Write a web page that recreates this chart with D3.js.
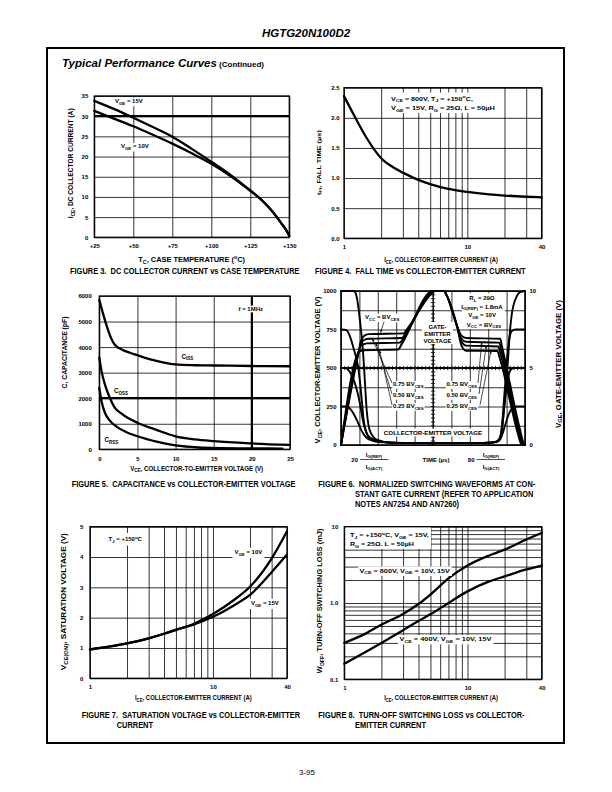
<!DOCTYPE html>
<html><head><meta charset="utf-8">
<script src="https://cdn.jsdelivr.net/npm/d3@7"></script>
<style>
body{margin:0;background:#fff}
svg{display:block}
text{font-family:"Liberation Sans",Arial,Helvetica,sans-serif;fill:#000;white-space:pre}
</style></head><body>
<svg id="c" width="612" height="792"></svg>
<script>
// ================= DATA =================
// Figure 3 : DC collector current vs case temperature
const f3TempTicks = [25, 50, 75, 100, 125, 150];
const f3TempLabels = ['+25', '+50', '+75', '+100', '+125', '+150'];
const f3CurrentTicks = [0, 5, 10, 15, 20, 25, 30, 35];
const f3Vge15 = [[25,33.8],[37.5,31.8],[50,29.6],[62.5,27.3],[75,24.9],[87.5,21.9],[100,18.7],[112.5,15.4],[125,11.6],[130,10.0],[135,8.2],[140,6.0],[145,3.4],[148,1.8],[150,0.4]];
const f3Vge10 = [[25,31.3],[37.5,29.4],[50,27.5],[62.5,25.4],[75,23.2],[87.5,20.8],[100,18.2],[112.5,15.1],[125,11.5],[130,10.0],[135,8.2],[140,6.0],[145,3.4],[148,1.8],[150,0.4]];

// Figure 4 : fall time vs collector-emitter current
const f4CurrentTicks = [1,2,3,4,5,6,7,8,9,10,20,30,40];
const f4CurrentLabels = ['1','','','','','','','','','10','','','40'];
const f4TimeTicks = [0, 0.5, 1.0, 1.5, 2.0, 2.5];
const f4Current  = [1, 1.2, 1.5, 2, 2.5, 3, 4, 5, 7, 10, 15, 20, 30, 40];
const f4FallTime = [2.36, 2.05, 1.69, 1.33, 1.18, 1.09, 0.97, 0.90, 0.82, 0.77, 0.73, 0.71, 0.69, 0.68];

// Figure 5 : capacitance vs collector-emitter voltage
const f5VoltTicks = [0, 5, 10, 15, 20, 25];
const f5CapTicks = [0, 1000, 2000, 3000, 4000, 5000, 6000];
const f5Ciss = [[0,5850],[0.5,5300],[1,4800],[1.5,4380],[2,4100],[3,3900],[4,3780],[5,3680],[6,3580],[7.5,3460],[10,3320],[12.5,3290],[15,3280],[20,3260],[25,3250]];
const f5Coss = [[0,3600],[0.3,3050],[0.75,2520],[1.4,2000],[2,1640],[3,1380],[5,1040],[7.5,760],[10,510],[12.5,390],[15,320],[20,230],[25,170]];
const f5Crss = [[0,2400],[0.3,1870],[0.75,1420],[1.3,1150],[2.3,880],[3.5,680],[5,510],[7.5,300],[10,150],[13,70],[16,45],[20,35],[24,30]];

// Figure 6 : normalized switching waveforms (time 0-100, VCE 0-1000 V, VGE 0-10 V)
const f6TimeTicks = [0,10,20,30,40,50,60,70,80,90,100];
const f6VceTicks = [0,125,250,375,500,625,750,875,1000];
const f6VceLabels = ['0','','250','','500','','750','','1000'];
const f6VgeTicks = [0, 5, 10];
const f6GateBV100 = [[0,0],[9.5,6.0],[10.8,6.75],[12.5,7.08],[15,7.2],[34,7.25],[36,7.55],[49,9.8],[51,10],[56,10],[57.5,9.7],[63,7.75],[65.5,7.1],[68,6.95],[86.5,6.9],[87.5,6.4],[97.5,0.9],[99.3,0.1],[100,0]];
const f6GateBV75  = [[0,0],[9.5,6.0],[10.8,6.6],[12.5,6.82],[15,6.9],[33,6.95],[35,7.25],[48.5,9.8],[50.5,10],[56,10],[57.5,9.7],[63,7.75],[65.5,6.9],[68,6.7],[86,6.65],[87,6.2],[97,0.8],[98.8,0.1],[100,0]];
const f6GateBV50  = [[0,0],[9.5,6.0],[10.8,6.45],[12.5,6.55],[14,6.6],[32,6.65],[34,6.95],[48,9.8],[50,10],[56,10],[57.5,9.7],[63,7.75],[65.5,6.7],[68,6.45],[85.5,6.4],[86.5,6.0],[96.5,0.8],[98.3,0.1],[100,0]];
const f6GateBV25  = [[0,0],[9.5,6.0],[11,6.12],[13,6.15],[31,6.2],[33,6.55],[47,9.8],[49,10],[56,10],[57.5,9.7],[63,7.75],[65.5,6.45],[68,6.12],[85,6.1],[86,5.75],[96,0.8],[97.8,0.1],[100,0]];
const f6VceBV100 = [[0,1000],[7,1000],[8.5,965],[10,840],[11,730],[12,600],[13,410],[14,220],[15,125],[16.5,72],[18,46],[21,28],[25,18],[30,15],[40,13],[60,12],[75,13],[80,15],[83,18],[85,24],[86.5,42],[87.5,95],[88.5,220],[90,420],[91,600],[91.8,735],[92.7,840],[93.6,900],[95.5,965],[97.3,993],[100,1000]];
const f6VceBV75  = [[0,750],[3,745],[5,700],[7,620],[9.4,500],[10.5,390],[11.5,265],[12.2,175],[13,115],[14.8,55],[17,36],[20,25],[25,17],[30,14],[40,12],[60,12],[75,13],[80,15],[83,18],[85,26],[86.5,52],[87.5,130],[88.5,280],[89.5,440],[90.5,590],[91.3,680],[92.3,730],[93.5,746],[95,750],[100,750]];
const f6VceBV50  = [[0,500],[2.5,500],[4.5,480],[7,420],[9,340],[10.5,255],[11.5,185],[12.5,128],[14,75],[16,46],[19,30],[23,20],[28,15],[35,13],[45,12],[60,12],[75,13],[80,15],[83,18],[85,25],[86.5,50],[87.5,115],[88.5,220],[89.5,330],[90.5,420],[91.5,470],[92.5,492],[94,500],[100,500]];
const f6VceBV25  = [[0,250],[3.5,250],[5,235],[7,200],[9,152],[10.5,110],[12,76],[13.5,52],[15.5,34],[19,23],[23,17],[28,14],[35,13],[45,12],[60,12],[75,13],[80,15],[83,17],[85,22],[86.5,36],[88,80],[89.5,140],[91,195],[92.5,230],[94,246],[95.5,250],[100,250]];

// Figure 7 : saturation voltage vs collector-emitter current
const f7CurrentTicks = [1,2,3,4,5,6,7,8,9,10,20,30,40];
const f7CurrentLabels = ['1','','','','','','','','','10','','','40'];
const f7VoltTicks = [0,1,2,3,4,5];
const f7Current = [1, 1.5, 2, 3, 4, 5, 7, 10, 15, 20, 30, 40];
const f7Vge10 = [0.95, 1.06, 1.15, 1.32, 1.47, 1.60, 1.80, 2.12, 2.60, 3.02, 3.95, 4.85];
const f7Vge15 = [0.95, 1.06, 1.15, 1.32, 1.47, 1.60, 1.78, 2.03, 2.42, 2.75, 3.50, 4.08];

// Figure 8 : turn-off switching loss vs collector-emitter current
const f8CurrentTicks = [1,2,3,4,5,6,7,8,9,10,20,30,40];
const f8CurrentLabels = ['1','','','','','','','','','10','','','40'];
const f8LossTicks = [0.1,0.2,0.3,0.4,0.5,0.6,0.7,0.8,0.9,1,2,3,4,5,6,7,8,9,10];
const f8LossLabels = ['0.1','','','','','','','','','1.0','','','','','','','','','10'];
const f8Current = [1, 1.5, 2, 3, 4, 5, 7, 10, 15, 20, 30, 40];
const f8Vce800 = [0.30, 0.40, 0.52, 0.72, 0.97, 1.29, 2.10, 3.10, 4.20, 5.00, 6.80, 8.30];
const f8Vce400 = [0.16, 0.23, 0.30, 0.44, 0.58, 0.71, 1.00, 1.42, 1.92, 2.23, 2.75, 3.10];

// ================= DRAWING =================
const svg = d3.select('#c');
const defs = svg.append('defs');
defs.append('marker').attr('id','arr').attr('viewBox','0 0 10 10').attr('refX',10).attr('refY',5)
  .attr('markerWidth',4).attr('markerHeight',4).attr('orient','auto')
  .append('path').attr('d','M0,1 L10,5 L0,9 Z').attr('fill','#000');

function rich(t, str, size) {
  const parts = str.split(/(_\{[^}]*\}|\^\{[^}]*\})/).filter(s => s.length);
  let cur = 0;
  for (const p of parts) {
    let s = p, off = 0, small = false;
    if (p.startsWith('_{')) { s = p.slice(2, -1); off = size * 0.3; small = true; }
    else if (p.startsWith('^{')) { s = p.slice(2, -1); off = -size * 0.4; small = true; }
    const ts = t.append('tspan').attr('dy', off - cur).text(s);
    if (small) ts.style('font-size', (size * 0.72) + 'px');
    cur = off;
  }
}
function addText(parent, x, y, str, o = {}) {
  const size = o.size || 6;
  let tr = `translate(${x},${y})`;
  if (o.rot) tr += ` rotate(${o.rot})`;
  const g = parent.append('g').attr('transform', tr);
  const t = g.append('text')
    .attr('text-anchor', o.anchor || 'start')
    .style('font-size', size + 'px')
    .style('font-weight', o.weight || 'bold')
    .style('font-style', o.italic ? 'italic' : 'normal');
  rich(t, str, size);
  if (o.width) {
    const w = t.node().getComputedTextLength();
    if (w > 0) t.attr('transform', `scale(${o.width / w},1)`);
  } else if (o.sx) t.attr('transform', `scale(${o.sx},1)`);
  if (o.bg) {
    const b = g.node().getBBox();
    const p = o.pad == null ? 1.2 : o.pad;
    g.insert('rect', 'text').attr('x', b.x - p).attr('y', b.y - p + 0.8)
      .attr('width', b.width + 2 * p).attr('height', b.height + 2 * p - 1.6).attr('fill', '#fff');
  }
  return g;
}
function styleAxis(s, size) {
  s.attr('font-family', null).attr('font-size', null);
  s.select('.domain').remove();
  s.selectAll('.tick line').attr('stroke', '#000').attr('stroke-width', 0.8);
  s.selectAll('.tick text').style('font-size', size + 'px').style('font-weight', 'bold').attr('fill', '#000');
}
function gridAxes(g, x, y, o) {
  const [x0, x1] = x.range(), [y0, y1] = y.range();
  const fx = o.xLabels ? (d, i) => o.xLabels[i] : (o.xFmt || (d => d));
  const fy = o.yLabels ? (d, i) => o.yLabels[i] : (o.yFmt || (d => d));
  g.append('g').attr('transform', `translate(0,${y0})`)
    .call(d3.axisBottom(x).tickValues(o.xTicks).tickSize(-(y0 - y1)).tickPadding(o.xPad).tickFormat(fx))
    .call(s => styleAxis(s, o.tickSize || 6));
  g.append('g').attr('transform', `translate(${x0},0)`)
    .call(d3.axisLeft(y).tickValues(o.yTicks).tickSize(-(x1 - x0)).tickPadding(o.yPad).tickFormat(fy))
    .call(s => styleAxis(s, o.tickSize || 6));
}
function frame(g, x, y, w) {
  const [x0, x1] = x.range(), [y0, y1] = y.range();
  g.append('rect').attr('x', x0).attr('y', y1).attr('width', x1 - x0).attr('height', y0 - y1)
    .attr('fill', 'none').attr('stroke', '#000').attr('stroke-width', w || 1.3);
}
function curve(g, x, y, pts, w) {
  g.append('path').datum(pts)
    .attr('d', d3.line().x(d => x(d[0])).y(d => y(d[1])).curve(d3.curveMonotoneX))
    .attr('fill', 'none').attr('stroke', '#000').attr('stroke-width', w || 2.3)
    .attr('stroke-linecap', 'round').attr('stroke-linejoin', 'round');
}
function hline(g, x, y, v, w) {
  g.append('line').attr('x1', x.range()[0]).attr('x2', x.range()[1]).attr('y1', y(v)).attr('y2', y(v))
    .attr('stroke', '#000').attr('stroke-width', w);
}
function vline(g, x, y, v, w) {
  g.append('line').attr('x1', x(v)).attr('x2', x(v)).attr('y1', y.range()[0]).attr('y2', y.range()[1])
    .attr('stroke', '#000').attr('stroke-width', w);
}
const zip = (a, b) => a.map((v, i) => [v, b[i]]);

// ---------- page ----------
addText(svg, 306, 37, 'HGTG20N100D2', { size: 11.5, italic: true, anchor: 'middle' });
svg.append('rect').attr('x', 47).attr('y', 48).attr('width', 517).attr('height', 695)
  .attr('fill', 'none').attr('stroke', '#000').attr('stroke-width', 2);
const ttl = svg.append('text').attr('x', 62).attr('y', 67);
ttl.append('tspan').text('Typical Performance Curves').style('font-size', '11.5px').style('font-weight', 'bold').style('font-style', 'italic');
ttl.append('tspan').text(' (Continued)').style('font-size', '8px').style('font-weight', 'bold');
addText(svg, 307, 775, '3-95', { size: 8, weight: 'normal', anchor: 'middle' });

// caption compression from figure 3 caption
const CAP = 8.4;
const cap3 = addText(svg, 70, 274, 'FIGURE 3.  DC COLLECTOR CURRENT vs CASE TEMPERATURE', { size: CAP, width: 229 });
const capSx = 229 / cap3.select('text').node().getComputedTextLength();
function caption(x, y, s) { return addText(svg, x, y, s, { size: CAP, sx: capSx }); }

// ---------- Figure 3 ----------
{
  const g = svg.append('g');
  const x = d3.scaleLinear([25, 150], [94.3, 289.3]);
  const y = d3.scaleLinear([0, 35], [237.3, 96]);
  gridAxes(g, x, y, { xTicks: f3TempTicks, xLabels: f3TempLabels, yTicks: f3CurrentTicks, xPad: 6.4, yPad: 6 });
  hline(g, x, y, 30, 2.2);
  curve(g, x, y, f3Vge15);
  curve(g, x, y, f3Vge10);
  frame(g, x, y);
  addText(g, 115, 103, 'V_{GE} = 15V', { size: 6, bg: true });
  addText(g, 121, 148.3, 'V_{GE} = 10V', { size: 6, bg: true });
  addText(g, 191.7, 262, 'T_{C}, CASE TEMPERATURE (^{o}C)', { size: 6.3, anchor: 'middle', width: 107 });
  addText(g, 73, 163.3, 'I_{CE}, DC COLLECTOR CURRENT (A)', { size: 6.3, anchor: 'middle', rot: -90, width: 110 });
}

// ---------- Figure 4 ----------
{
  const g = svg.append('g');
  const x = d3.scaleLog([1, 40], [344, 541.6]);
  const y = d3.scaleLinear([0, 2.5], [238.3, 87.7]);
  gridAxes(g, x, y, { xTicks: f4CurrentTicks, xLabels: f4CurrentLabels, yTicks: f4TimeTicks, yFmt: d3.format('.1f'), xPad: 6.4, yPad: 4.5 });
  curve(g, x, y, zip(f4Current, f4FallTime));
  frame(g, x, y);
  g.append('rect').attr('x', 388.5).attr('y', 92.5).attr('width', 109).attr('height', 20.5).attr('fill', '#fff');
  addText(g, 391, 100.5, 'V_{CE} = 800V, T_{J} = +150^{o}C,', { size: 6, width: 82 });
  addText(g, 391, 109.8, 'V_{GE} = 15V, R_{G} = 25Ω, L = 50µH', { size: 6, width: 104 });
  addText(g, 441, 262, 'I_{CE}, COLLECTOR-EMITTER CURRENT (A)', { size: 6.3, anchor: 'middle', width: 114 });
  addText(g, 320.5, 162.5, 't_{FI}, FALL TIME (µs)', { size: 6, anchor: 'middle', rot: -90, width: 65 });
  caption(315, 274, 'FIGURE 4.  FALL TIME vs COLLECTOR-EMITTER CURRENT');
}

// ---------- Figure 5 ----------
{
  const g = svg.append('g');
  const x = d3.scaleLinear([0, 25], [99.3, 290]);
  const y = d3.scaleLinear([0, 6000], [449.3, 296]);
  gridAxes(g, x, y, { xTicks: f5VoltTicks, yTicks: f5CapTicks, xPad: 7, yPad: 7.5 });
  hline(g, x, y, 2000, 2.2);
  vline(g, x, y, 20, 2.2);
  curve(g, x, y, f5Ciss);
  curve(g, x, y, f5Coss);
  curve(g, x, y, f5Crss);
  frame(g, x, y);
  addText(g, 238.5, 311, 'f = 1MHz', { size: 6, bg: true });
  addText(g, 181.5, 358.5, 'C_{ISS}', { size: 6.3, bg: true });
  addText(g, 114, 393, 'C_{OSS}', { size: 6.3, bg: true });
  addText(g, 104.5, 442, 'C_{RSS}', { size: 6.3, bg: true });
  addText(g, 196.7, 470.5, 'V_{CE}, COLLECTOR-TO-EMITTER VOLTAGE (V)', { size: 6.3, anchor: 'middle', width: 133 });
  addText(g, 67, 352.5, 'C, CAPACITANCE (pF)', { size: 6.3, anchor: 'middle', rot: -90, width: 72 });
  caption(71.7, 487, 'FIGURE 5.  CAPACITANCE vs COLLECTOR-EMITTER VOLTAGE');
}

// ---------- Figure 6 ----------
{
  const g = svg.append('g');
  const x = d3.scaleLinear([0, 100], [341, 525]);
  const y = d3.scaleLinear([0, 1000], [445, 291]);
  const yg = d3.scaleLinear([0, 10], [445, 291]);
  gridAxes(g, x, y, { xTicks: f6TimeTicks, xFmt: () => '', yTicks: f6VceTicks, yLabels: f6VceLabels, xPad: 4, yPad: 4.5 });
  g.append('g').attr('transform', `translate(${x.range()[1]},0)`)
    .call(d3.axisRight(yg).tickValues(f6VgeTicks).tickSize(0).tickPadding(4.5))
    .call(s => styleAxis(s, 6));
  // centre reticle lines with minor ticks
  hline(g, x, y, 500, 1.8);
  vline(g, x, y, 50, 1.1);
  d3.range(0, 100.01, 2).forEach(t => g.append('line').attr('x1', x(t)).attr('x2', x(t)).attr('y1', y(500) - 2.2).attr('y2', y(500) + 2.2).attr('stroke', '#000').attr('stroke-width', 0.8));
  d3.range(0, 1000.1, 25).forEach(v => g.append('line').attr('x1', x(50) - 2.2).attr('x2', x(50) + 2.2).attr('y1', y(v)).attr('y2', y(v)).attr('stroke', '#000').attr('stroke-width', 0.8));
  [f6VceBV100, f6VceBV75, f6VceBV50, f6VceBV25].forEach(c => curve(g, x, y, c, 1.9));
  [f6GateBV100, f6GateBV75, f6GateBV50, f6GateBV25].forEach(c => curve(g, x, yg, c, 1.9));
  frame(g, x, y, 1.6);
  // annotations
  addText(g, 365, 319, 'V_{CC} = BV_{CES}', { size: 6, bg: true });
  g.append('line').attr('x1', 384).attr('y1', 321.5).attr('x2', x(21.5)).attr('y2', yg(7.3))
    .attr('stroke', '#000').attr('stroke-width', 0.7).attr('marker-end', 'url(#arr)');
  g.append('rect').attr('x', 422).attr('y', 322).attr('width', 31).attr('height', 22).attr('fill', '#fff');
  addText(g, 437.5, 329, 'GATE-', { size: 6, anchor: 'middle' });
  addText(g, 437.5, 336, 'EMITTER', { size: 6, anchor: 'middle' });
  addText(g, 437.5, 343, 'VOLTAGE', { size: 6, anchor: 'middle' });
  g.append('rect').attr('x', 462).attr('y', 293).attr('width', 43).attr('height', 36).attr('fill', '#fff');
  addText(g, 482, 300, 'R_{L} = 29Ω', { size: 6, anchor: 'middle' });
  addText(g, 482, 308.5, 'I_{G(REF)} = 1.8mA', { size: 6, anchor: 'middle' });
  addText(g, 482, 317, 'V_{GE} = 10V', { size: 6, anchor: 'middle' });
  addText(g, 484, 326.5, 'V_{CC} = BV_{CES}', { size: 6, anchor: 'middle' });
  const lbl = ['0.75 BV_{CES}', '0.50 BV_{CES}', '0.25 BV_{CES}'];
  const lys = [386, 397, 408];
  const leftT = [[17, 6.9], [19, 6.6], [21, 6.15]];
  const rightT = [[76.5, 6.7], [79, 6.45], [81.5, 6.12]];
  lbl.forEach((s, i) => {
    addText(g, 393, lys[i], s, { size: 6, bg: true, pad: 0.8 });
    g.append('line').attr('x1', 392).attr('y1', lys[i] - 3).attr('x2', x(leftT[i][0])).attr('y2', yg(leftT[i][1]))
      .attr('stroke', '#000').attr('stroke-width', 0.7).attr('marker-end', 'url(#arr)');
    addText(g, 477, lys[i], s, { size: 6, bg: true, pad: 0.8, anchor: 'end' });
    g.append('line').attr('x1', 478 + i).attr('y1', lys[i] - 3).attr('x2', x(rightT[i][0])).attr('y2', yg(rightT[i][1]))
      .attr('stroke', '#000').attr('stroke-width', 0.7).attr('marker-end', 'url(#arr)');
  });
  addText(g, 433, 435, 'COLLECTOR-EMITTER VOLTAGE', { size: 6.2, anchor: 'middle', bg: true });
  // time axis
  addText(g, 358, 461.5, '20', { size: 6, anchor: 'end' });
  g.append('line').attr('x1', 360).attr('x2', 388.5).attr('y1', 459.5).attr('y2', 459.5).attr('stroke', '#000').attr('stroke-width', 0.7);
  addText(g, 374, 456.5, 'I_{G(REF)}', { size: 6, anchor: 'middle' });
  addText(g, 374, 468.5, 'I_{G(ACT)}', { size: 6, anchor: 'middle' });
  addText(g, 436, 461.5, 'TIME (µs)', { size: 6, anchor: 'middle' });
  addText(g, 474.5, 461.5, '80', { size: 6, anchor: 'end' });
  g.append('line').attr('x1', 476.7).attr('x2', 505).attr('y1', 459.5).attr('y2', 459.5).attr('stroke', '#000').attr('stroke-width', 0.7);
  addText(g, 491, 456.5, 'I_{G(REF)}', { size: 6, anchor: 'middle' });
  addText(g, 491, 468.5, 'I_{G(ACT)}', { size: 6, anchor: 'middle' });
  addText(g, 320, 370, 'V_{CE}, COLLECTOR-EMITTER VOLTAGE (V)', { size: 6.3, anchor: 'middle', rot: -90, width: 147 });
  addText(g, 560.5, 364, 'V_{GE}, GATE-EMITTER VOLTAGE (V)', { size: 6.3, anchor: 'middle', rot: -90, width: 128 });
  caption(318.3, 487, 'FIGURE 6.  NORMALIZED SWITCHING WAVEFORMS AT CON-');
  caption(355, 497, 'STANT GATE CURRENT (REFER TO APPLICATION');
  caption(355, 507, 'NOTES AN7254 AND AN7260)');
}

// ---------- Figure 7 ----------
{
  const g = svg.append('g');
  const x = d3.scaleLog([1, 40], [90, 287]);
  const y = d3.scaleLinear([0, 5], [678.3, 526.7]);
  gridAxes(g, x, y, { xTicks: f7CurrentTicks, xLabels: f7CurrentLabels, yTicks: f7VoltTicks, xPad: 6.9, yPad: 6.7 });
  curve(g, x, y, zip(f7Current, f7Vge10));
  curve(g, x, y, zip(f7Current, f7Vge15));
  frame(g, x, y);
  addText(g, 108.5, 541, 'T_{J} = +150^{o}C', { size: 6, bg: true, pad: 2.5 });
  addText(g, 234.5, 554, 'V_{GE} = 10V', { size: 6, bg: true, pad: 2 });
  addText(g, 251, 605, 'V_{GE} = 15V', { size: 6, bg: true, pad: 2 });
  addText(g, 193.3, 700, 'I_{CE}, COLLECTOR-EMITTER CURRENT (A)', { size: 6.3, anchor: 'middle', width: 117 });
  addText(g, 66, 601.7, 'V_{CE(ON)}, SATURATION VOLTAGE (V)', { size: 6.3, anchor: 'middle', rot: -90, width: 137 });
  caption(81.7, 718, 'FIGURE 7.  SATURATION VOLTAGE vs COLLECTOR-EMITTER');
  caption(116.7, 728, 'CURRENT');
}

// ---------- Figure 8 ----------
{
  const g = svg.append('g');
  const x = d3.scaleLog([1, 40], [344.3, 541.7]);
  const y = d3.scaleLog([0.1, 10], [679.3, 526.7]);
  gridAxes(g, x, y, { xTicks: f8CurrentTicks, xLabels: f8CurrentLabels, yTicks: f8LossTicks, yLabels: f8LossLabels, xPad: 6, yPad: 6 });
  curve(g, x, y, zip(f8Current, f8Vce800));
  curve(g, x, y, zip(f8Current, f8Vce400));
  frame(g, x, y);
  g.append('rect').attr('x', 345.5).attr('y', 527.5).attr('width', 85.5).attr('height', 21.5).attr('fill', '#fff');
  addText(g, 350, 537, 'T_{J} = +150^{o}C, V_{GE} = 15V,', { size: 6, width: 79 });
  addText(g, 350, 546, 'R_{G} = 25Ω. L = 50µH', { size: 6, width: 64 });
  addText(g, 359.5, 572.5, 'V_{CE} = 800V, V_{GE} = 10V, 15V', { size: 6, width: 90.5, bg: true, pad: 1.5 });
  addText(g, 399.5, 641, 'V_{CE} = 400V, V_{GE} = 10V, 15V', { size: 6, width: 92, bg: true, pad: 1.5 });
  addText(g, 441, 700, 'I_{CE}, COLLECTOR-EMITTER CURRENT (A)', { size: 6.3, anchor: 'middle', width: 114 });
  addText(g, 322, 601, 'W_{OFF}, TURN-OFF SWITCHING LOSS (mJ)', { size: 6.3, anchor: 'middle', rot: -90, width: 145 });
  caption(318.3, 718, 'FIGURE 8.  TURN-OFF SWITCHING LOSS vs COLLECTOR-');
  caption(355, 728, 'EMITTER CURRENT');
}
</script>
</body></html>
